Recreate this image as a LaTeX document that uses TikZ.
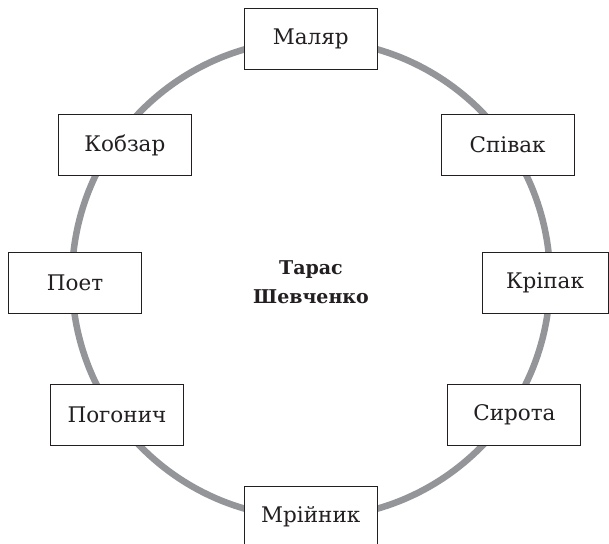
\documentclass[tikz,border=0pt]{standalone}
\usepackage{fontspec}
\setmainfont{DejaVu Serif}
\definecolor{ringgray}{HTML}{939598}
\definecolor{inkblack}{HTML}{231F20}
\begin{document}
\begin{tikzpicture}[x=1pt,y=-1pt,
  wordbox/.style={draw=inkblack, line width=0.9pt, fill=white, minimum width=133pt,
    minimum height=60.6pt, inner sep=0pt, text=inkblack, font=\fontsize{21.5}{25}\selectfont},
  ring/.style={draw=ringgray, line width=6.5pt},
  centre/.style={align=center, text=inkblack, font=\fontsize{19}{29}\selectfont\bfseries}]
\useasboundingbox (0,0) rectangle (609,543);
\clip (0,0) rectangle (609,543);
\draw[ring] (311,279) circle[radius=239];
\node[wordbox] (malyar) at (310.7,39) {Маляр};
\node[wordbox] (kobzar) at (124.9,144.9) {Кобзар};
\node[wordbox] (spivak) at (507.6,144.9) {Співак};
\node[wordbox] (poet) at (75,282.7) {Поет};
\node[wordbox, minimum width=126pt] (kripak) at (545,282.7) {Кріпак};
\node[wordbox] (pohonych) at (116.9,415) {Погонич};
\node[wordbox] (syrota) at (514.4,415) {Сирота};
\node[wordbox] (mriynyk) at (310.7,516.3) {Мрійник};
\node[centre] (taras) at (311,282.5) {Тарас\\Шевченко};
\end{tikzpicture}
\end{document}
